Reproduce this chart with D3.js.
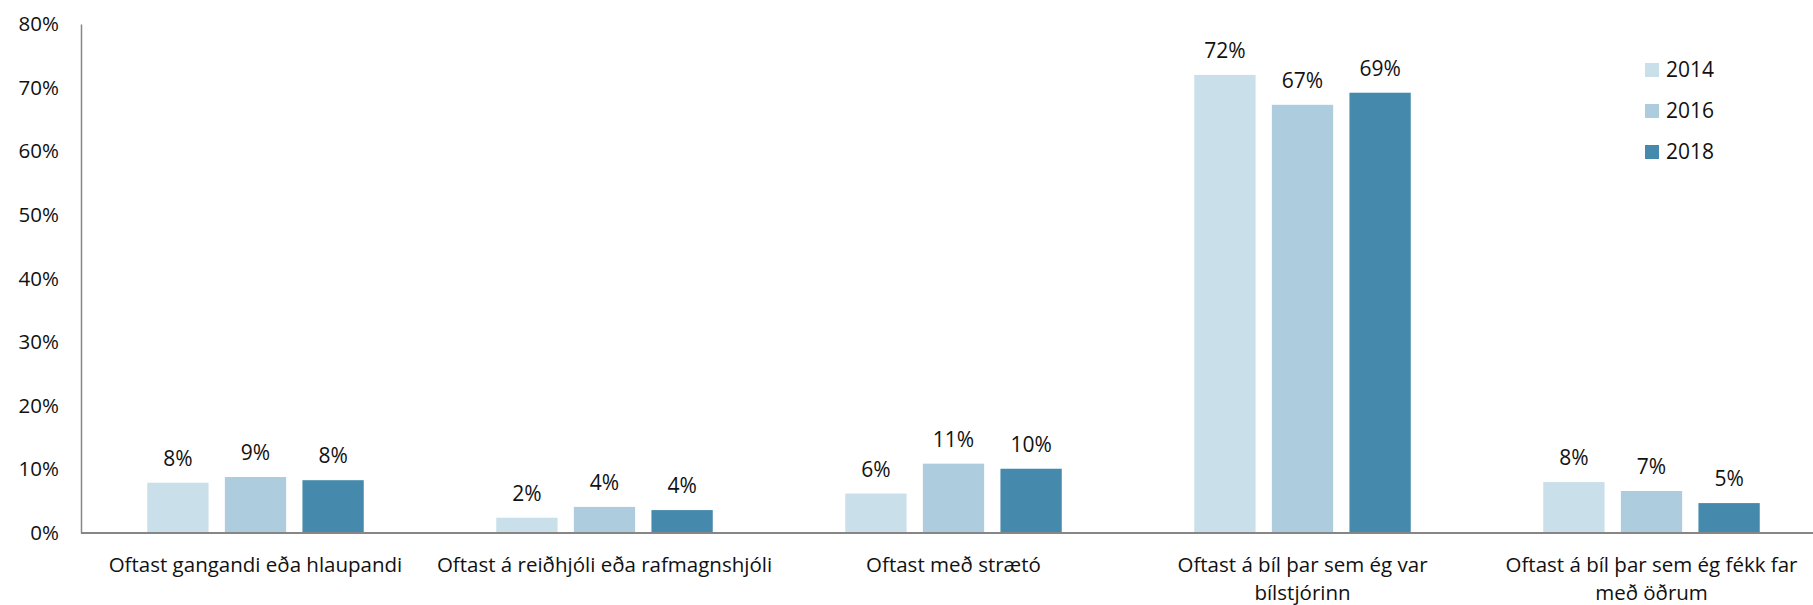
<!DOCTYPE html>
<html>
<head>
<meta charset="utf-8">
<script src="https://cdn.jsdelivr.net/npm/d3@7"></script>
<style>
  body { margin: 0; background: #fff; }
  svg text { font-family: "Open Sans", sans-serif; fill: #111; }
</style>
</head>
<body>
<div id="chart"></div>
<script>
// categories (each label split into lines) and the three survey years
var categories = [
    ["Oftast gangandi eða hlaupandi"],
    ["Oftast á reiðhjóli eða rafmagnshjóli"],
    ["Oftast með strætó"],
    ["Oftast á bíl þar sem ég var", "bílstjórinn"],
    ["Oftast á bíl þar sem ég fékk far", "með öðrum"]
];
var years = ["2014", "2016", "2018"];
var values2014 = [0.079, 0.024, 0.062, 0.720, 0.080];
var values2016 = [0.088, 0.041, 0.109, 0.673, 0.066];
var values2018 = [0.083, 0.036, 0.101, 0.692, 0.047];
var labels2014 = ["8%", "2%", "6%", "72%", "8%"];
var labels2016 = ["9%", "4%", "11%", "67%", "7%"];
var labels2018 = ["8%", "4%", "10%", "69%", "5%"];
var yTicks = [0, 0.1, 0.2, 0.3, 0.4, 0.5, 0.6, 0.7, 0.8];
var colors = ["#c9dfe9", "#adcddf", "#4589ac"];

var W = 1813, H = 605;
var margin = { left: 81, right: 1826, top: 24, bottom: 533 };

var series = [values2014, values2016, values2018];
var seriesLabels = [labels2014, labels2016, labels2018];

var x0 = d3.scaleBand()
    .domain(d3.range(categories.length))
    .range([margin.left, margin.right])
    .paddingInner(0.333)
    .paddingOuter(0.1665);

var x1 = d3.scaleBand()
    .domain(d3.range(years.length))
    .range([0, x0.bandwidth()])
    .paddingInner(0.21)
    .paddingOuter(0.105);

var y = d3.scaleLinear()
    .domain([0, 0.8])
    .range([margin.bottom, margin.top]);

var svg = d3.select("#chart").append("svg")
    .attr("width", W)
    .attr("height", H);

// y axis
var yAxis = svg.append("g")
    .attr("transform", "translate(" + margin.left + ",0)")
    .call(d3.axisLeft(y).tickValues(yTicks).tickSize(0).tickPadding(22)
        .tickFormat(d3.format(".0%")));
yAxis.select(".domain").attr("stroke", "#868686").attr("stroke-width", 1.5);
yAxis.selectAll("text")
    .style("font-size", "20.5px")
    .attr("font-family", null);

// bars
var rows = [];
categories.forEach(function (c, i) {
    years.forEach(function (yr, j) {
        rows.push({ cat: i, year: j, value: series[j][i], label: seriesLabels[j][i] });
    });
});

var groups = svg.append("g").attr("class", "bars");

groups.selectAll("rect")
    .data(rows)
    .enter()
    .append("rect")
    .attr("x", d => x0(d.cat) + x1(d.year))
    .attr("y", d => y(d.value))
    .attr("width", x1.bandwidth())
    .attr("height", d => y(0) - y(d.value))
    .attr("fill", d => colors[d.year]);

groups.selectAll("text")
    .data(rows)
    .enter()
    .append("text")
    .attr("x", d => x0(d.cat) + x1(d.year) + x1.bandwidth() / 2)
    .attr("y", d => y(d.value) - 17)
    .attr("text-anchor", "middle")
    .style("font-size", "21px")
    .text(d => d.label);

// x axis line
svg.append("line")
    .attr("x1", margin.left)
    .attr("x2", W)
    .attr("y1", y(0))
    .attr("y2", y(0))
    .attr("stroke", "#868686")
    .attr("stroke-width", 2);

// category labels
var catLabels = svg.append("g");
categories.forEach(function (lines, i) {
    var t = catLabels.append("text")
        .attr("text-anchor", "middle")
        .style("font-size", "20.5px");
    lines.forEach(function (ln, k) {
        t.append("tspan")
            .attr("x", x0(i) + x0.bandwidth() / 2)
            .attr("y", 572 + k * 28)
            .text(ln);
    });
});

// legend
var legend = svg.append("g").attr("transform", "translate(1645,0)");
years.forEach(function (yr, j) {
    var cy = 70 + j * 41;
    legend.append("rect")
        .attr("x", 0)
        .attr("y", cy - 7)
        .attr("width", 14)
        .attr("height", 14)
        .attr("fill", colors[j]);
    legend.append("text")
        .attr("x", 21)
        .attr("y", cy + 7)
        .style("font-size", "21px")
        .text(yr);
});
</script>
</body>
</html>
